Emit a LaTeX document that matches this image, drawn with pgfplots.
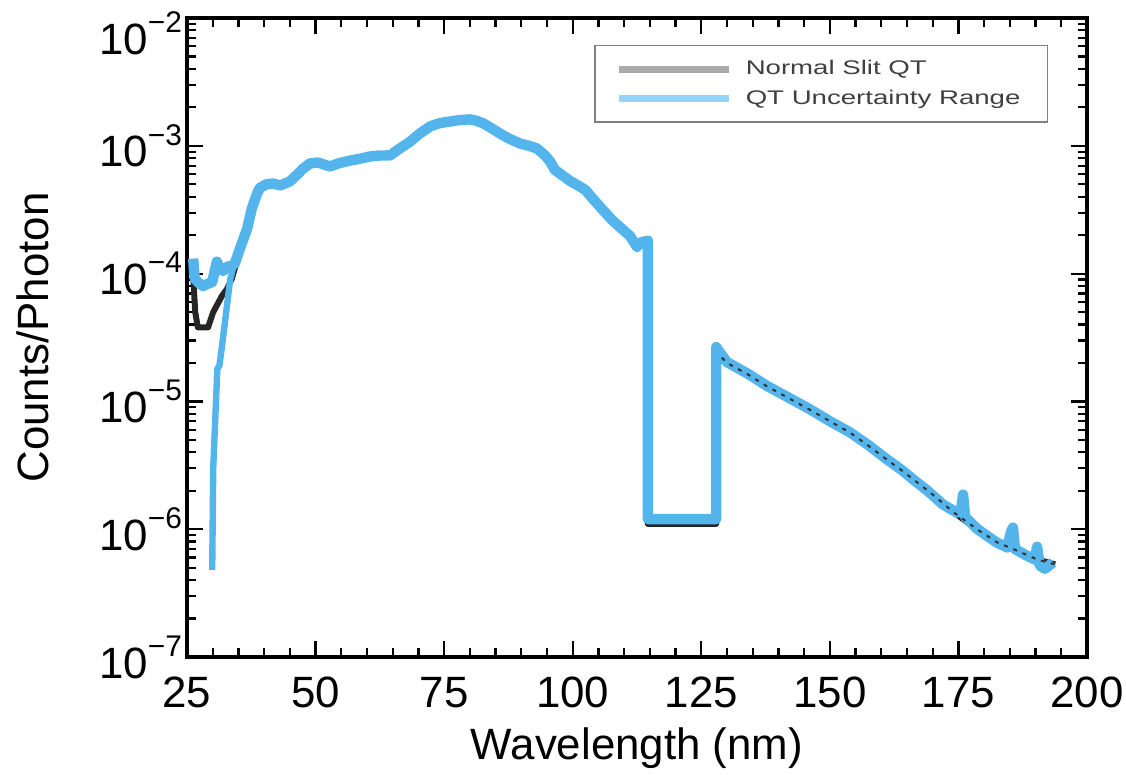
\documentclass[border=0pt]{standalone}
\usepackage{fontspec}
\setmainfont{Liberation Sans}
\newfontfamily\legfont[FakeStretch=1.4]{Liberation Sans}
\usepackage{pgfplots}
\pgfplotsset{compat=1.18}
\definecolor{qtblue}{RGB}{84,181,236}
\definecolor{legblue}{RGB}{150,210,245}
\definecolor{leggray}{RGB}{170,170,170}
\newcommand{\bigf}{\fontsize{22}{26}\selectfont}
\newcommand{\ex}[1]{10\raisebox{0.5em}{\fontsize{15}{15}\selectfont −#1}}

\pgfplotstableread{
x y
26.2 9.6e-5
26.6 5.0e-5
27.1 3.8e-5
29.1 3.8e-5
30.1 5.0e-5
31.8 6.7e-5
32.8 7.6e-5
33.7 9.1e-5
35.3 1.5e-4
36.7 2.2e-4
37.6 3.2e-4
38.6 4.2e-4
39.2 4.7e-4
40.5 5.0e-4
41.7 5.0e-4
43.1 4.9e-4
45.0 5.2e-4
47.5 6.5e-4
48.9 7.2e-4
50.5 7.3e-4
52.8 7.0e-4
56.7 7.6e-4
60.6 8.2e-4
64.5 8.4e-4
66.0 9.3e-4
68.4 1.08e-3
70.3 1.25e-3
72.3 1.42e-3
74.0 1.50e-3
76.1 1.55e-3
78.0 1.59e-3
80.0 1.60e-3
81.3 1.57e-3
82.6 1.50e-3
84.5 1.35e-3
86.4 1.21e-3
89.8 1.04e-3
93.0 9.5e-4
95.6 7.5e-4
97.5 6.1e-4
101.4 4.8e-4
103.9 3.9e-4
107.8 2.6e-4
111.1 2.0e-4
112.5 1.65e-4
114.6 1.75e-4
114.6 1.1e-6
127.9 1.1e-6
127.9 2.5e-5
130.0 2.0e-5
134.0 1.63e-5
137.8 1.31e-5
142.0 1.06e-5
146.1 8.6e-6
150.0 7.0e-6
153.9 5.7e-6
157.5 4.5e-6
161.1 3.5e-6
164.0 2.88e-6
166.9 2.34e-6
170.5 1.8e-6
173.9 1.37e-6
178.6 1.0e-6
182.5 7.9e-7
186.0 6.9e-7
190.3 5.8e-7
193.8 5.3e-7
}\blackqt

\pgfplotstableread{
x y
129.0 2.2e-5
130.0 2.0e-5
134.0 1.63e-5
137.8 1.31e-5
142.0 1.06e-5
146.1 8.6e-6
150.0 7.0e-6
153.9 5.7e-6
157.5 4.5e-6
161.1 3.5e-6
164.0 2.88e-6
166.9 2.34e-6
170.5 1.8e-6
173.9 1.37e-6
178.6 1.0e-6
182.5 7.9e-7
186.0 6.9e-7
190.3 5.8e-7
193.8 5.3e-7
}\blackright

\pgfplotstableread{
x y
26.2 1.31e-4
26.5 9.1e-5
27.5 8.3e-5
28.1 8.0e-5
29.0 8.3e-5
29.9 8.6e-5
30.4 1.05e-4
30.8 1.24e-4
31.4 1.09e-4
32.0 1.05e-4
32.8 1.13e-4
33.7 1.15e-4
34.3 1.20e-4
35.3 1.57e-4
36.7 2.25e-4
37.6 3.23e-4
38.6 4.2e-4
39.2 4.7e-4
40.5 5.0e-4
41.7 5.07e-4
43.1 4.9e-4
44.2 5.1e-4
45.0 5.26e-4
46.5 6.0e-4
47.5 6.6e-4
48.9 7.28e-4
50.5 7.4e-4
51.8 7.1e-4
52.8 6.9e-4
54.5 7.3e-4
56.7 7.67e-4
58.5 7.9e-4
60.6 8.26e-4
62.5 8.4e-4
64.5 8.41e-4
66.0 9.3e-4
68.4 1.08e-3
70.3 1.25e-3
72.3 1.42e-3
74.0 1.50e-3
76.1 1.55e-3
78.0 1.59e-3
80.0 1.61e-3
81.3 1.57e-3
82.6 1.50e-3
84.5 1.35e-3
86.4 1.21e-3
88.0 1.12e-3
89.8 1.04e-3
91.5 1.00e-3
93.0 9.55e-4
94.5 8.5e-4
95.6 7.55e-4
96.5 6.5e-4
97.5 6.07e-4
99.5 5.3e-4
101.4 4.80e-4
102.5 4.5e-4
103.9 3.86e-4
106.0 3.1e-4
107.8 2.59e-4
109.5 2.25e-4
111.1 1.98e-4
112.5 1.62e-4
113.2 1.75e-4
114.6 1.81e-4
114.6 1.20e-6
127.9 1.20e-6
127.9 2.66e-5
128.5 2.45e-5
130.0 2.03e-5
134.0 1.65e-5
137.8 1.32e-5
142.0 1.07e-5
146.1 8.69e-6
150.0 7.0e-6
153.9 5.73e-6
157.5 4.55e-6
159.8 3.86e-6
161.1 3.52e-6
164.0 2.9e-6
166.2 2.45e-6
169.0 2.0e-6
172.0 1.56e-6
174.7 1.35e-6
175.5 1.40e-6
175.9 1.87e-6
176.3 1.25e-6
178.6 1.01e-6
180.5 8.9e-7
182.5 7.85e-7
184.5 7.2e-7
185.2 9.5e-7
185.6 1.03e-6
186.0 7.0e-7
188.0 6.3e-7
189.8 5.8e-7
190.3 7.3e-7
190.8 5.2e-7
191.8 4.9e-7
193.4 5.5e-7
}\blueup

\pgfplotstableread{
x y
29.9 4.8e-7
30.1 3e-6
30.9 1.8e-5
31.3 1.9e-5
31.8 2.7e-5
33.4 9.0e-5
34.3 1.25e-4
35.3 1.6e-4
}\bluelow

\begin{document}
\begin{tikzpicture}
\begin{axis}[
  scale only axis, width=450bp, height=319.5bp,
  xmin=25, xmax=200, ymode=log, ymin=1e-7, ymax=1e-2,
  axis line style={line width=1.6bp},
  tick align=inside,
  major tick length=8bp, minor tick length=4.5bp,
  every tick/.style={black, line width=1.1bp},
  xtick={25,50,75,100,125,150,175,200},
  xticklabels={25,50,75,100,125,150,175,200},
  minor x tick num=4,
  ytick={1e-7,1e-6,1e-5,1e-4,1e-3},
  yticklabels={\ex{7},\ex{6},\ex{5},\ex{4},\ex{3}},
  extra y ticks={1e-2},
  extra y tick labels={\ex{2}},
  extra y tick style={grid=none, yticklabel style={yshift=-7.5bp}},
  minor ytick={2e-7,3e-7,4e-7,5e-7,6e-7,7e-7,8e-7,9e-7,
    2e-6,3e-6,4e-6,5e-6,6e-6,7e-6,8e-6,9e-6,
    2e-5,3e-5,4e-5,5e-5,6e-5,7e-5,8e-5,9e-5,
    2e-4,3e-4,4e-4,5e-4,6e-4,7e-4,8e-4,9e-4,
    2e-3,3e-3,4e-3,5e-3,6e-3,7e-3,8e-3,9e-3},
  xticklabel style={font=\bigf, yshift=-6.5bp},
  yticklabel style={font=\bigf, xshift=1bp},
  xlabel={Wavelength (nm)},
  ylabel={Counts/Photon},
  xlabel style={font=\bigf, at={(axis description cs:0.5,-0.1424)}, anchor=center},
  ylabel style={font=\bigf, at={(axis description cs:-0.171,0.5)}, anchor=center},
  legend image code/.code={\draw[#1] (0bp,0bp) -- (55bp,0bp);},
  legend cell align=left,
  legend style={at={(0.957,0.958)}, anchor=north east, draw=gray, line width=0.8bp,
    fill=white, inner xsep=10.5bp, inner ysep=4.5bp, row sep=0bp, column sep=3.5bp,
    font=\legfont\fontsize{9.9}{11}\selectfont, text=black!75,
    nodes={inner sep=3bp}},
]
\coordinate (bl) at (rel axis cs:0,0);
\coordinate (tr) at (rel axis cs:1,1);
\addlegendimage{leggray, line width=3.5bp}
\addlegendentry{Normal Slit QT}
\addlegendimage{legblue, line width=3.5bp}
\addlegendentry{QT Uncertainty Range}
\addplot[forget plot, black!85, line width=3bp, line join=round] table[x=x,y=y] {\blackqt};
\addplot[forget plot, qtblue, line width=5.2bp, line join=round] table[x=x,y=y] {\blueup};
\addplot[forget plot, qtblue, line width=3.2bp, line join=round] table[x=x,y=y] {\bluelow};
\addplot[forget plot, black!80, line width=1bp, dash pattern=on 2bp off 3bp] table[x=x,y=y] {\blackright};
\end{axis}
\pgfresetboundingbox
\path ([xshift=-93.5bp,yshift=-59bp]bl) rectangle ([xshift=19.5bp,yshift=9bp]tr);
\end{tikzpicture}
\end{document}
